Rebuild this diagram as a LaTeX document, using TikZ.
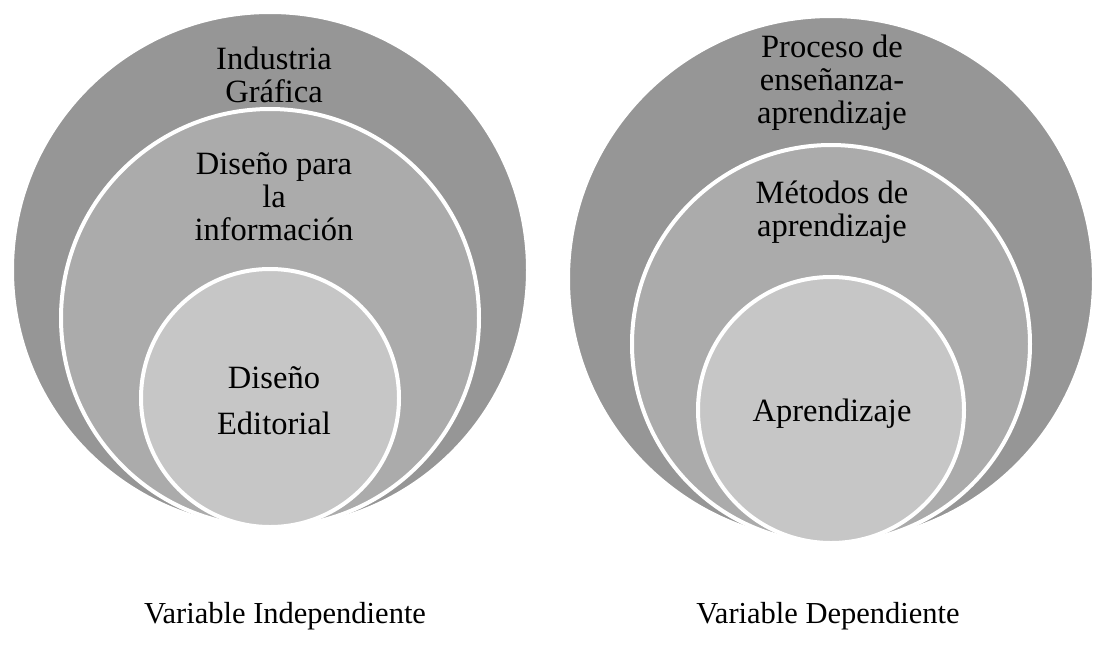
\documentclass[tikz,border=0pt]{standalone}
\usepackage{fontspec}
\setmainfont{Liberation Serif}
\newfontfamily\tnrfont{Liberation Serif}
\definecolor{outerg}{HTML}{969696}
\definecolor{midg}{HTML}{ABABAB}
\definecolor{innerg}{HTML}{C6C6C6}
\tikzset{
  ring/.style={circle, draw=white, line width=4pt, inner sep=0pt, outer sep=0pt},
  outerring/.style={ring, fill=outerg},
  midring/.style={ring, fill=midg},
  innerring/.style={ring, fill=innerg},
  ctext/.style={anchor=base, inner sep=0pt, font=\tnrfont\fontsize{32.5}{33}\selectfont},
  vlabel/.style={anchor=base, inner sep=0pt, font=\tnrfont\fontsize{30.5}{34}\selectfont}
}
\begin{document}
\begin{tikzpicture}[x=1pt,y=-1pt]
\useasboundingbox (0,0) rectangle (1096,659);
% left set
\node[outerring, minimum size=516pt] (lo) at (270,270) {};
\node[midring, minimum size=418pt] (lm) at (270,318) {};
\node[innerring, minimum size=258pt] (li) at (270,398) {};
\node[ctext] (lot) at (274,69) {\begin{tabular}[t]{@{}c@{}}Industria\\Gráfica\end{tabular}};
\node[ctext] (lmt) at (274,174) {\begin{tabular}[t]{@{}c@{}}Diseño para\\la\\información\end{tabular}};
\node[ctext] (lit) at (274,388) {\begin{tabular}[t]{@{}c@{}}Diseño\\[13pt]Editorial\end{tabular}};
% right set
\node[outerring, minimum size=526pt] (ro) at (831,279) {};
\node[midring, minimum size=398pt] (rm) at (831,344) {};
\node[innerring, minimum size=266pt] (ri) at (831,410) {};
\node[ctext] (rot) at (832,57) {\begin{tabular}[t]{@{}c@{}}Proceso de\\enseñanza-\\aprendizaje\end{tabular}};
\node[ctext] (rmt) at (832,203) {\begin{tabular}[t]{@{}c@{}}Métodos de\\aprendizaje\end{tabular}};
\node[ctext] (rit) at (832,421) {Aprendizaje};
% labels
\node[vlabel] (vi) at (285,623) {Variable Independiente};
\node[vlabel] (vd) at (828,623) {Variable Dependiente};
\end{tikzpicture}
\end{document}
